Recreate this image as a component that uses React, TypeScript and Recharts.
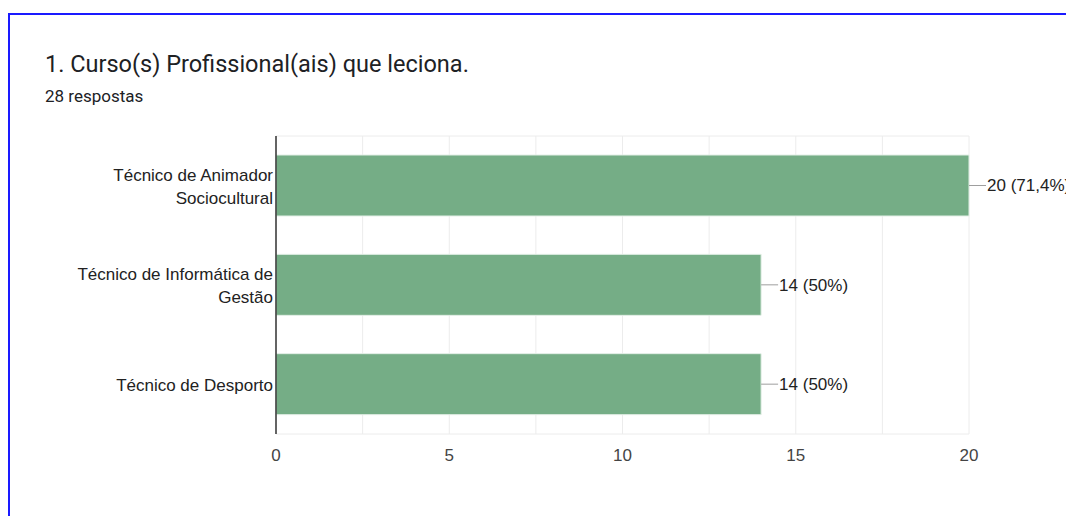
import { BarChart, Bar, XAxis, YAxis, CartesianGrid, LabelList } from 'recharts';

const courses = [
  ['Técnico de Animador', 'Sociocultural'],
  ['Técnico de Informática de', 'Gestão'],
  ['Técnico de Desporto'],
];
const counts = [20, 14, 14];
const shares = ['71,4%', '50%', '50%'];
const labelledTicks = [0, 5, 10, 15, 20];
const gridTicks = [0, 2.5, 5, 7.5, 10, 12.5, 15, 17.5, 20];

const data = courses.map((lines, i) => ({
  name: lines.join(' '),
  lines,
  value: counts[i],
  label: `${counts[i]} (${shares[i]})`,
}));

const font = 'Arial, "Liberation Sans", sans-serif';

function CourseTick(props: any) {
  const { x, y, payload, index } = props;
  const lines = data[index]?.lines ?? [payload.value];
  const offset = ((lines.length - 1) * 23) / 2 - 1;
  return (
    <text x={x + 5} y={y} textAnchor="end" fill="#222" fontSize={17} fontFamily={font}>
      {lines.map((l: string, i: number) => (
        <tspan key={i} x={x + 5} y={y - offset + i * 23} dy="0.35em">{l}</tspan>
      ))}
    </text>
  );
}

function ValueTick(props: any) {
  const { x, y, payload } = props;
  if (!labelledTicks.includes(payload.value)) return <g />;
  return (
    <text x={x} y={y + 7} dy="0.71em" textAnchor="middle" fill="#444" fontSize={17} fontFamily={font}>
      {payload.value}
    </text>
  );
}

function ValueLabel(props: any) {
  const { x, y, width, height, value } = props;
  const end = x + width;
  const cy = y + height / 2;
  return (
    <g>
      <line x1={end} y1={cy} x2={end + 17} y2={cy} stroke="#9e9e9e" strokeWidth={1} />
      <text x={end + 18} y={cy} dy="0.35em" fill="#222" fontSize={17} fontFamily={font}>{value}</text>
    </g>
  );
}

export default function App() {
  return (
    <div style={{ position: 'fixed', left: 0, top: 0, width: 1066, height: 516, overflow: 'hidden', background: '#fff' }}>
      <div style={{ position: 'absolute', left: 8, top: 13, width: 1100, height: 600, border: '2px solid #1a1aff', boxSizing: 'border-box' }} />
      <div style={{ position: 'absolute', left: 45, top: 50, fontFamily: 'Roboto, sans-serif', fontSize: 23.5, color: '#202124', whiteSpace: 'nowrap' }}>
        1. Curso(s) Profissional(ais) que leciona.
      </div>
      <div style={{ position: 'absolute', left: 45, top: 86, fontFamily: 'Roboto, sans-serif', fontSize: 17, color: '#202124', whiteSpace: 'nowrap' }}>
        28 respostas
      </div>
      <div style={{ position: 'absolute', left: 0, top: 0 }}>
        <BarChart width={1066} height={516} data={data} layout="vertical" margin={{ top: 136, right: 97, bottom: 52, left: 0 }} barSize={61}>
          <CartesianGrid
            stroke="#ececec"
            horizontalCoordinatesGenerator={({ offset }: any) => [offset.top, offset.top + offset.height]}
          />
          <XAxis type="number" domain={[0, 20]} ticks={gridTicks} interval={0} axisLine={false} tickLine={false} tick={<ValueTick />} height={30} />
          <YAxis type="category" dataKey="name" width={276} axisLine={{ stroke: '#333', strokeWidth: 1.5 }} tickLine={false} tick={<CourseTick />} interval={0} />
          <Bar dataKey="value" fill="#75ad86" stroke="#e3efe6" strokeWidth={1} isAnimationActive={false}>
            <LabelList dataKey="label" content={<ValueLabel />} />
          </Bar>
        </BarChart>
      </div>
    </div>
  );
}
